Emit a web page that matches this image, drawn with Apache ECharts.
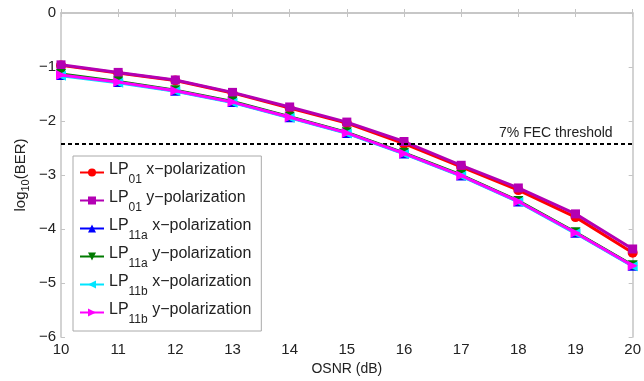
<!DOCTYPE html>
<html>
<head>
<meta charset="utf-8">
<script src="https://cdn.jsdelivr.net/npm/echarts@6/dist/echarts.min.js"></script>
<style>
html,body{margin:0;padding:0;background:#fff;}
#chart{width:644px;height:381px;}
</style>
</head>
<body>
<div id="chart"></div>
<script>
var osnr = [10, 11, 12, 13, 14, 15, 16, 17, 18, 19, 20];
var lp01x = [-0.97, -1.11, -1.25, -1.48, -1.76, -2.04, -2.42, -2.85, -3.28, -3.78, -4.44];
var lp01y = [-0.96, -1.10, -1.24, -1.47, -1.74, -2.02, -2.38, -2.82, -3.24, -3.72, -4.37];
var lp11ax = [-1.15, -1.28, -1.44, -1.65, -1.93, -2.22, -2.60, -3.01, -3.49, -4.07, -4.68];
var lp11ay = [-1.13, -1.27, -1.43, -1.64, -1.92, -2.21, -2.59, -3.00, -3.48, -4.06, -4.67];
var lp11bx = [-1.16, -1.29, -1.45, -1.66, -1.94, -2.23, -2.61, -3.02, -3.50, -4.08, -4.69];
var lp11by = [-1.15, -1.28, -1.44, -1.65, -1.93, -2.22, -2.60, -3.01, -3.49, -4.07, -4.68];
var fecThreshold = -2.42;
var fecLabel = '7% FEC threshold';
var xTicks = [10, 20, 1];
var yTicks = [-6, 0, 1];
var seriesNames = ['LP01 x', 'LP01 y', 'LP11a x', 'LP11a y', 'LP11b x', 'LP11b y'];
var seriesLegend = {
  'LP01 x': ['LP', '01', ' x\u2212polarization'],
  'LP01 y': ['LP', '01', ' y\u2212polarization'],
  'LP11a x': ['LP', '11a', ' x\u2212polarization'],
  'LP11a y': ['LP', '11a', ' y\u2212polarization'],
  'LP11b x': ['LP', '11b', ' x\u2212polarization'],
  'LP11b y': ['LP', '11b', ' y\u2212polarization']
};

var FONT = '"Liberation Sans", Arial, sans-serif';
var AX = '#c4c4c4';
function pairs(v){ return osnr.map(function(x,i){ return [x, v[i]]; }); }
function minus(v){ return String(v).replace('-', '\u2212'); }

var styles = [
  {data: lp01x, color: '#ff0000', symbol: 'circle', rot: 0, size: 10},
  {data: lp01y, color: '#b300b3', symbol: 'rect', rot: 0, size: 9},
  {data: lp11ax, color: '#0000ff', symbol: 'triangle', rot: 0, size: 10},
  {data: lp11ay, color: '#007a00', symbol: 'triangle', rot: 180, size: 10},
  {data: lp11bx, color: '#00e5ff', symbol: 'triangle', rot: 90, size: 10},
  {data: lp11by, color: '#ff00ff', symbol: 'triangle', rot: -90, size: 10}
];

var series = styles.map(function(s, i){
  return {
    name: seriesNames[i], type: 'line', data: pairs(s.data),
    xAxisIndex: 0, yAxisIndex: 0,
    symbol: s.symbol, symbolSize: s.size, symbolRotate: s.rot,
    lineStyle: {color: s.color, width: 3},
    itemStyle: {color: s.color},
    animation: false, z: 3 + i
  };
});
series.push({
  name: 'fec', type: 'line', data: [], xAxisIndex: 0, yAxisIndex: 0,
  markLine: {
    silent: true, symbol: ['none', 'none'], animation: false,
    lineStyle: {color: '#000', type: [4, 3], width: 2},
    label: {show: true, position: 'insideEndTop', formatter: fecLabel, color: '#222', fontFamily: FONT, fontSize: 14, distance: [20, 4]},
    data: [{yAxis: fecThreshold}]
  }
});

var chart = echarts.init(document.getElementById('chart'), null, {renderer: 'canvas'});
chart.setOption({
  backgroundColor: '#fff',
  animation: false,
  grid: {left: 61, right: 8, top: 13, bottom: 38, show: false},
  legend: {
    data: seriesNames, orient: 'vertical', left: 73, top: 156,
    backgroundColor: '#fff', borderColor: '#aaa', borderWidth: 1,
    padding: [6, 10, 5, 6], itemGap: 4, itemWidth: 24, itemHeight: 10,
    formatter: function(n){ var p = seriesLegend[n]; return '{a|' + p[0] + '}{s|' + p[1] + '}{a|' + p[2] + '}'; },
    textStyle: {
      fontFamily: FONT, color: '#222', fontSize: 16,
      rich: {
        a: {fontFamily: FONT, fontSize: 16, color: '#222', lineHeight: 21, verticalAlign: 'top', padding: [0,0,0,0]},
        s: {fontFamily: FONT, fontSize: 12, color: '#222', lineHeight: 21, verticalAlign: 'top', padding: [12,0,0,0]}
      }
    }
  },
  xAxis: [{
    type: 'value', min: xTicks[0], max: xTicks[1], interval: xTicks[2], position: 'bottom',
    name: 'OSNR (dB)', nameLocation: 'middle', nameGap: 25,
    nameTextStyle: {fontFamily: FONT, fontSize: 14, color: '#222'},
    axisLine: {show: true, lineStyle: {color: AX, width: 1.5}},
    axisTick: {show: true, inside: true, length: 4, lineStyle: {color: AX}},
    axisLabel: {fontFamily: FONT, fontSize: 15, color: '#222', margin: 5},
    splitLine: {show: false}
  }, {
    type: 'value', min: xTicks[0], max: xTicks[1], interval: xTicks[2], position: 'top',
    axisLine: {show: true, lineStyle: {color: AX, width: 1.5}},
    axisTick: {show: true, inside: true, length: 4, lineStyle: {color: AX}},
    axisLabel: {show: false}, splitLine: {show: false}
  }],
  yAxis: [{
    type: 'value', min: yTicks[0], max: yTicks[1], interval: yTicks[2], position: 'left',
    name: '{a|log}{s|10}{a|(BER)}', nameLocation: 'middle', nameGap: 30, nameRotate: 90,
    nameMoveOverlap: false,
    nameTextStyle: {fontFamily: FONT, fontSize: 14, color: '#222', verticalAlign: 'bottom',
      rich: {a: {fontFamily: FONT, fontSize: 15, color: '#222', lineHeight: 20},
             s: {fontFamily: FONT, fontSize: 11, color: '#222', lineHeight: 20, padding: [10,0,0,0]}}},
    axisLine: {show: true, lineStyle: {color: AX, width: 1.5}},
    axisTick: {show: true, inside: true, length: 4, lineStyle: {color: AX}},
    axisLabel: {fontFamily: FONT, fontSize: 15, color: '#222', margin: 5, formatter: minus},
    splitLine: {show: false}
  }, {
    type: 'value', min: yTicks[0], max: yTicks[1], interval: yTicks[2], position: 'right',
    axisLine: {show: true, lineStyle: {color: AX, width: 1.5}},
    axisTick: {show: true, inside: true, length: 4, lineStyle: {color: AX}},
    axisLabel: {show: false}, splitLine: {show: false}
  }],
  series: series
});
</script>
</body>
</html>
